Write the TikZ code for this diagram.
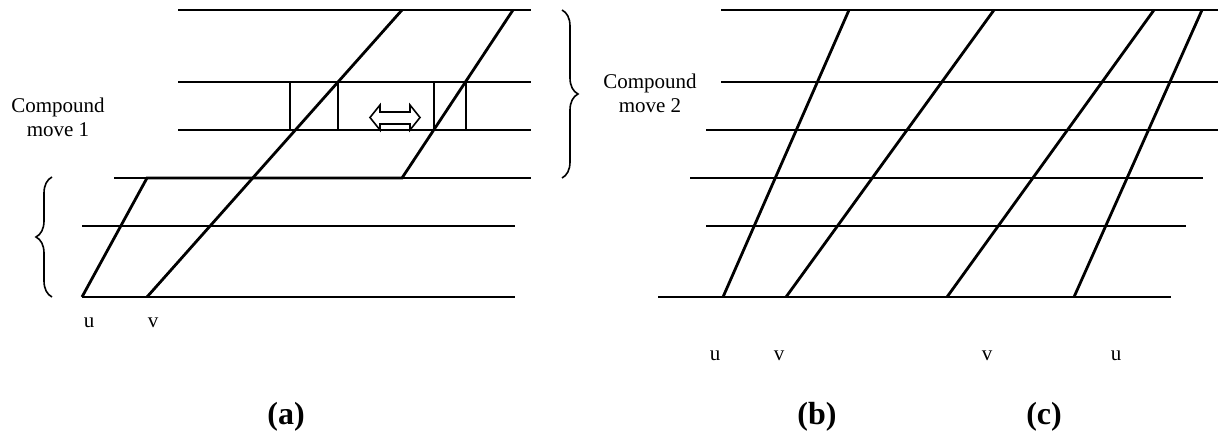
\documentclass[tikz,border=0pt]{standalone}
\usepackage{fontspec}
\setmainfont{Liberation Serif}
\usetikzlibrary{decorations.pathreplacing}

\begin{document}
\begin{tikzpicture}[
  x=0.5pt, y=-0.5pt,
  track/.style={draw=black, line width=1pt},
  walk/.style={draw=black, line width=1.4pt},
  win/.style={draw=black, line width=0.8pt},
  brc/.style={decorate, decoration={brace, amplitude=8pt}, line width=0.8pt},
  txt/.style={font=\fontsize{10.5}{12}\selectfont, align=center, inner sep=0pt},
  figcap/.style={font=\fontsize{16}{19}\selectfont\bfseries, inner sep=0pt}]

  \useasboundingbox (0,0) rectangle (1218,432);

  % (a)
  \foreach \y/\xa/\xb in {10/178/531, 82/178/531, 130/178/531,
                          178/114/531, 226/82/515, 297/82/515}
    \draw[track] (\xa,\y) -- (\xb,\y);
  \draw[walk] (82,297) -- (147,178) -- (402,178) -- (513,10);
  \draw[walk] (147,297) -- (402,10);
  \draw[win] (290,82) rectangle (338,130);
  \draw[win] (434,82) rectangle (466,130);
  % hollow swap arrow
  \draw[win, line join=miter] (370,117.5) -- (380,105) -- (380,112) -- (410,112)
    -- (410,105) -- (420,117.5) -- (410,130) -- (410,124) -- (380,124)
    -- (380,130) -- cycle;

  \draw[brc] (562,10) -- (562,178);
  \draw[brc] (52,297) -- (52,177);
  \node[txt] (m1) at (58,117) {Compound\\move 1};
  \node[txt] (m2) at (650,93) {Compound\\move 2};

  \node[txt, anchor=base] (ua) at (89,328) {u};
  \node[txt, anchor=base] (va) at (153,328) {v};

  % (b) and (c)
  \foreach \y/\xa/\xb in {10/721/1218, 82/721/1218, 130/706/1218,
                          178/690/1203, 226/706/1186, 297/658/1171}
    \draw[track] (\xa,\y) -- (\xb,\y);
  \foreach \xa/\xb in {723/849, 786/994, 947/1154, 1074/1202}
    \draw[walk] (\xa,297) -- (\xb,10);

  \node[txt, anchor=base] (ub) at (715,360) {u};
  \node[txt, anchor=base] (vb) at (779,360) {v};
  \node[txt, anchor=base] (vc) at (987,360) {v};
  \node[txt, anchor=base] (uc) at (1116,360) {u};

  \node[figcap] (ca) at (286,417) {(a)};
  \node[figcap] (cb) at (817,417) {(b)};
  \node[figcap] (cc) at (1044,417) {(c)};
\end{tikzpicture}
\end{document}
